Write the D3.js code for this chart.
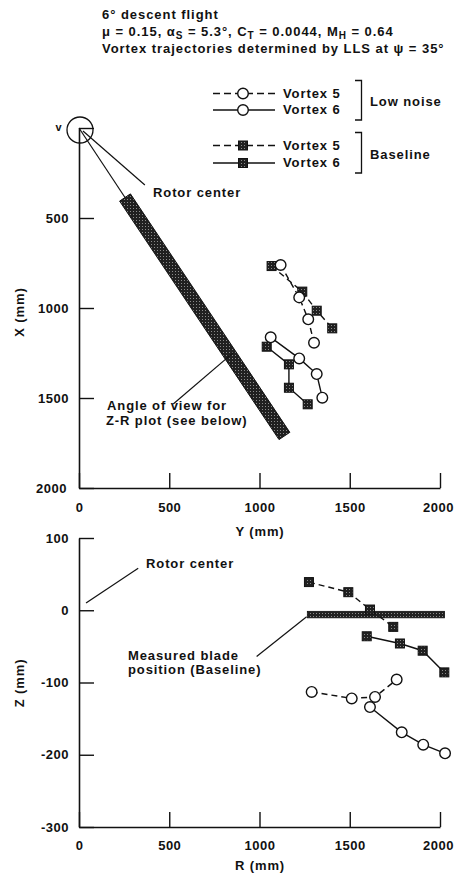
<!DOCTYPE html>
<html>
<head>
<meta charset="utf-8">
<script src="https://cdn.jsdelivr.net/npm/d3@7"></script>
<style>
  body { margin: 0; background: #fff; }
  svg text { font-family: "Liberation Sans", Arial, sans-serif; font-weight: bold; fill: #111; letter-spacing: 0.9px; }
  svg text.head { letter-spacing: 0.95px; }
  svg .tick text { letter-spacing: 0.5px; }
</style>
</head>
<body>
<svg id="chart" width="455" height="877"></svg>
<script>
// top view: [Y, X] in mm
const lowV5TopYX = [[1117, 761], [1220, 941], [1270, 1063], [1302, 1193]];
const lowV6TopYX = [[1062, 1163], [1220, 1280], [1317, 1367], [1348, 1498]];
const baseV5TopYX = [[1067, 767], [1237, 909], [1317, 1015], [1403, 1113]];
const baseV6TopYX = [[1040, 1215], [1163, 1313], [1163, 1443], [1267, 1535]];

// side view: [R, Z] in mm
const lowV5SideRZ = [[1289, -113], [1511, -122], [1640, -120], [1760, -96]];
const lowV6SideRZ = [[1612, -134], [1788, -169], [1907, -186], [2028, -198]];
const baseV5SideRZ = [[1274, 39], [1492, 25], [1612, 1], [1741, -23]];
const baseV6SideRZ = [[1594, -36], [1778, -46], [1904, -56], [2024, -86]];

// view band, [Y, X] end points, and blade position R range at Z
const viewBandYX = [[255, 386], [1138, 1711]];
const bladeR = [1265, 2025];
const bladeZ = [-1.5, -10.5];

const topTicksY = [0, 500, 1000, 1500, 2000];
const topTicksX = [0, 500, 1000, 1500, 2000];
const sideTicksR = [0, 500, 1000, 1500, 2000];
const sideTicksZ = [-300, -200, -100, 0, 100];

const legendItems = [
  { label: "Vortex 5", marker: "circle", dashed: true },
  { label: "Vortex 6", marker: "circle", dashed: false },
  { label: "Vortex 5", marker: "square", dashed: true },
  { label: "Vortex 6", marker: "square", dashed: false }
];
const legendGroups = ["Low noise", "Baseline"];

const svg = d3.select("#chart");

const defs = svg.append("defs");
const pat = defs.append("pattern")
  .attr("id", "stipple")
  .attr("width", 3).attr("height", 3)
  .attr("patternUnits", "userSpaceOnUse");
pat.append("rect").attr("width", 3).attr("height", 3).attr("fill", "#202020");
pat.append("rect").attr("x", 1).attr("y", 1).attr("width", 1).attr("height", 1).attr("fill", "#8a8a8a");

// header
svg.append("text").attr("class", "head").attr("font-size", 13).attr("x", 102).attr("y", 19).text("6° descent flight");
const l2 = svg.append("text").attr("class", "head").attr("font-size", 13).attr("x", 102).attr("y", 36);
l2.append("tspan").text("μ = 0.15, α");
l2.append("tspan").attr("font-size", 10).attr("dy", 3).text("S");
l2.append("tspan").attr("dy", -3).text(" = 5.3°, C");
l2.append("tspan").attr("font-size", 10).attr("dy", 3).text("T");
l2.append("tspan").attr("dy", -3).text(" = 0.0044, M");
l2.append("tspan").attr("font-size", 10).attr("dy", 3).text("H");
l2.append("tspan").attr("dy", -3).text(" = 0.64");
svg.append("text").attr("class", "head").attr("font-size", 13).attr("x", 102).attr("y", 53)
  .text("Vortex trajectories determined by LLS at ψ = 35°");

function drawMarker(g, kind, cx, cy) {
  if (kind === "circle") {
    g.append("circle").attr("cx", cx).attr("cy", cy).attr("r", 5.3)
      .attr("fill", "#fff").attr("stroke", "#111").attr("stroke-width", 1.4);
  } else {
    g.append("rect").attr("x", cx - 4.5).attr("y", cy - 4.5)
      .attr("width", 9).attr("height", 9)
      .attr("fill", "url(#stipple)").attr("stroke", "#111").attr("stroke-width", 1);
  }
}

// legend
const legendRowY = [93.5, 110, 145.5, 163];
const legend = svg.append("g");
legendItems.forEach((item, i) => {
  const y = legendRowY[i];
  legend.append("line")
    .attr("x1", 213).attr("x2", 275).attr("y1", y).attr("y2", y)
    .attr("stroke", "#111").attr("stroke-width", 1.4)
    .attr("stroke-dasharray", item.dashed ? "7,4" : null);
  drawMarker(legend, item.marker, 243, y);
  legend.append("text").attr("x", 283).attr("y", y + 4.3)
    .attr("font-size", 13).text(item.label);
});
legendGroups.forEach((name, i) => {
  const y0 = legendRowY[i * 2] - 13, y1 = legendRowY[i * 2 + 1] + 10;
  legend.append("path")
    .attr("d", `M355,${y0}H361.5V${y1}H355`)
    .attr("fill", "none").attr("stroke", "#111").attr("stroke-width", 1.3);
  legend.append("text").attr("x", 370).attr("y", (y0 + y1) / 2 + 6)
    .attr("font-size", 13).text(name);
});

function drawSeries(g, data, xs, ys, kind, dashed) {
  const line = d3.line().x(d => xs(d[0])).y(d => ys(d[1]));
  g.append("path").datum(data).attr("d", line)
    .attr("fill", "none").attr("stroke", "#111").attr("stroke-width", 1.4)
    .attr("stroke-dasharray", dashed ? "6,4" : null);
  data.forEach(d => drawMarker(g, kind, xs(d[0]), ys(d[1])));
}

function styleAxis(g) {
  g.select(".domain").attr("stroke", "#111").attr("stroke-width", 1.6);
  g.selectAll(".tick line").attr("stroke", "#111").attr("stroke-width", 1.4);
  g.selectAll(".tick text")
    .attr("font-family", "Liberation Sans, Arial, sans-serif")
    .attr("font-weight", "bold").attr("font-size", 13).attr("fill", "#111");
  // keep the last bottom label inside the page
  g.selectAll(".tick text").filter(d => d === 2000).attr("dx", -2);
}

// ---- top plot: X vs Y ----
const yTop = d3.scaleLinear().domain([0, 2000]).range([79, 440]);
const xTop = d3.scaleLinear().domain([0, 2000]).range([128, 488]);

const topPlot = svg.append("g");

topPlot.append("g")
  .attr("transform", "translate(0,488)")
  .call(d3.axisBottom(yTop).tickValues(topTicksY).tickSize(-15).tickSizeOuter(0).tickPadding(15).tickFormat(d => d))
  .call(styleAxis);
topPlot.append("g")
  .attr("transform", "translate(79,0)")
  .call(d3.axisLeft(xTop).tickValues(topTicksX).tickSize(-15).tickSizeOuter(0).tickPadding(10)
    .tickFormat(d => d === 0 ? "" : d))
  .call(styleAxis);

// rotor disc and view band
topPlot.append("circle").attr("cx", yTop(0) + 1).attr("cy", xTop(0) + 2).attr("r", 13)
  .attr("fill", "none").attr("stroke", "#111").attr("stroke-width", 1.3);
topPlot.append("text").attr("x", 59).attr("y", 131).attr("text-anchor", "middle")
  .attr("font-size", 11).text("v");

const p0 = [yTop(viewBandYX[0][0]), xTop(viewBandYX[0][1])];
const p1 = [yTop(viewBandYX[1][0]), xTop(viewBandYX[1][1])];
const len = Math.hypot(p1[0] - p0[0], p1[1] - p0[1]);
const nx = -(p1[1] - p0[1]) / len * 6.5, ny = (p1[0] - p0[0]) / len * 6.5;
topPlot.append("path")
  .attr("d", `M${p0[0] + nx},${p0[1] + ny}L${p1[0] + nx},${p1[1] + ny}L${p1[0] - nx},${p1[1] - ny}L${p0[0] - nx},${p0[1] - ny}Z`)
  .attr("fill", "url(#stipple)").attr("stroke", "#111").attr("stroke-width", 1);

// leader lines (data coords)
const topLeaders = [
  [[0, 0], viewBandYX[0]],
  [[22, 17], [365, 317]],
  [[522, 1533], [855, 1248]]
];
topLeaders.forEach(l => {
  topPlot.append("line")
    .attr("x1", yTop(l[0][0])).attr("y1", xTop(l[0][1]))
    .attr("x2", yTop(l[1][0])).attr("y2", xTop(l[1][1]))
    .attr("stroke", "#111").attr("stroke-width", 1.2);
});
topPlot.append("text").attr("x", 153).attr("y", 197).attr("font-size", 13).text("Rotor center");
topPlot.append("text").attr("x", 107).attr("y", 410).attr("font-size", 13).text("Angle of view for");
topPlot.append("text").attr("x", 106).attr("y", 425).attr("font-size", 13).text("Z-R plot (see below)");

drawSeries(topPlot, baseV5TopYX, yTop, xTop, "square", true);
drawSeries(topPlot, baseV6TopYX, yTop, xTop, "square", false);
drawSeries(topPlot, lowV5TopYX, yTop, xTop, "circle", true);
drawSeries(topPlot, lowV6TopYX, yTop, xTop, "circle", false);

topPlot.append("text").attr("x", 260).attr("y", 536).attr("text-anchor", "middle")
  .attr("font-size", 13).text("Y (mm)");
topPlot.append("text").attr("transform", "translate(24,312) rotate(-90)")
  .attr("text-anchor", "middle").attr("font-size", 13).text("X (mm)");

// ---- bottom plot: Z vs R ----
const rSide = d3.scaleLinear().domain([0, 2000]).range([79, 440]);
const zSide = d3.scaleLinear().domain([-300, 100]).range([827, 538]);

const side = svg.append("g");
side.append("g")
  .attr("transform", "translate(0,827)")
  .call(d3.axisBottom(rSide).tickValues(sideTicksR).tickSize(-15).tickSizeOuter(0).tickPadding(14).tickFormat(d => d))
  .call(styleAxis);
side.append("g")
  .attr("transform", "translate(79,0)")
  .call(d3.axisLeft(zSide).tickValues(sideTicksZ).tickSize(-15).tickSizeOuter(0).tickPadding(10).tickFormat(d => String(d)))
  .call(styleAxis);

side.append("rect")
  .attr("x", rSide(bladeR[0])).attr("y", zSide(bladeZ[0]))
  .attr("width", rSide(bladeR[1]) - rSide(bladeR[0]))
  .attr("height", zSide(bladeZ[1]) - zSide(bladeZ[0]))
  .attr("fill", "url(#stipple)").attr("stroke", "#111").attr("stroke-width", 0.8);

const sideLeaders = [
  [[39, 10], [328, 58]],
  [[984, -64], [1261, -9]]
];
sideLeaders.forEach(l => {
  side.append("line")
    .attr("x1", rSide(l[0][0])).attr("y1", zSide(l[0][1]))
    .attr("x2", rSide(l[1][0])).attr("y2", zSide(l[1][1]))
    .attr("stroke", "#111").attr("stroke-width", 1.2);
});
side.append("text").attr("x", 146).attr("y", 568).attr("font-size", 13).text("Rotor center");
side.append("text").attr("x", 128).attr("y", 660).attr("font-size", 13).text("Measured blade");
side.append("text").attr("x", 128).attr("y", 674).attr("font-size", 13).text("position (Baseline)");

drawSeries(side, baseV5SideRZ, rSide, zSide, "square", true);
drawSeries(side, baseV6SideRZ, rSide, zSide, "square", false);
drawSeries(side, lowV5SideRZ, rSide, zSide, "circle", true);
drawSeries(side, lowV6SideRZ, rSide, zSide, "circle", false);

side.append("text").attr("x", 260).attr("y", 870).attr("text-anchor", "middle")
  .attr("font-size", 13).text("R (mm)");
side.append("text").attr("transform", "translate(24,683) rotate(-90)")
  .attr("text-anchor", "middle").attr("font-size", 13).text("Z (mm)");
</script>
</body>
</html>
